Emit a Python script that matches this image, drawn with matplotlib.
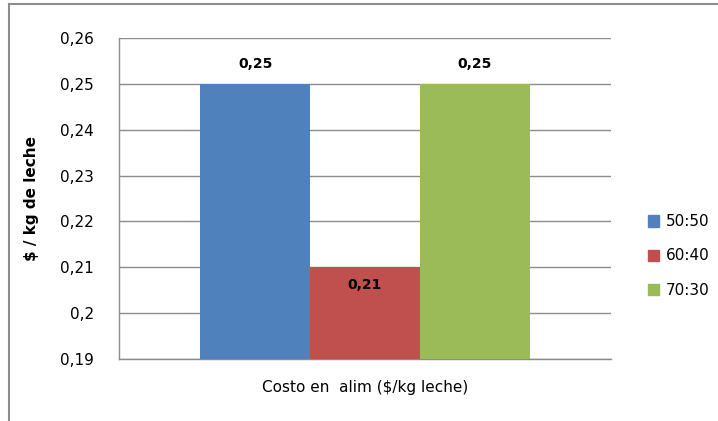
import matplotlib
matplotlib.use("Agg")
import matplotlib.pyplot as plt
from matplotlib.lines import Line2D
from matplotlib.ticker import FixedLocator

# Data
category = "Costo en  alim ($/kg leche)"
series = ["50:50", "60:40", "70:30"]
values = [0.25, 0.21, 0.25]
colors = ["#4F81BD", "#C0504D", "#9BBB59"]
yticks = [0.19, 0.20, 0.21, 0.22, 0.23, 0.24, 0.25, 0.26]
ytick_labels = ["0,19", "0,2", "0,21", "0,22", "0,23", "0,24", "0,25", "0,26"]

plt.rcParams["font.family"] = ["DejaVu Sans"]

W, H = 718, 421
fig = plt.figure(figsize=(W / 100, H / 100), dpi=100)
ax = fig.add_axes([119 / W, 1 - 359 / H, (611 - 119) / W, (359 - 38) / H])

bar_w = 0.223
offsets = [-bar_w, 0, bar_w]
for name, v, c, off in zip(series, values, colors, offsets):
    ax.bar(off, v - 0.19, bottom=0.19, width=bar_w, color=c, label=name, zorder=3)

ax.set_xlim(-0.5, 0.5)
ax.set_ylim(0.19, 0.26)

ax.yaxis.set_major_locator(FixedLocator(yticks))
ax.set_yticklabels(ytick_labels, fontsize=11, color="#000000")
ax.set_xticks([0])
ax.set_xticklabels([category], fontsize=11)
ax.tick_params(axis="both", length=0)
ax.tick_params(axis="y", pad=18)
ax.tick_params(axis="x", pad=15)

ax.grid(axis="y", color="#8c8c8c", linewidth=1.0, zorder=0)
for s in ["top", "right"]:
    ax.spines[s].set_visible(False)
for s in ["left", "bottom"]:
    ax.spines[s].set_color("#8c8c8c")
    ax.spines[s].set_linewidth(1.0)

ax.set_ylabel("$ / kg de leche", fontsize=11, fontweight="bold")
ax.yaxis.set_label_coords(-(119 - 39) / (611 - 119), 0.5)

# Value labels
for off, v in zip(offsets, values):
    lbl = f"{v:.2f}".replace(".", ",")
    dy = 20 if v >= 0.25 else -18
    ax.annotate(lbl, (off, v), xytext=(0, dy), textcoords="offset pixels",
                ha="center", va="center", fontsize=10, fontweight="bold")

# Legend
handles = [plt.Rectangle((0, 0), 1, 1, color=c) for c in colors]
fig.legend(handles, series, loc="center left",
           bbox_to_anchor=(634 / W, 1 - 256 / H), frameon=False,
           fontsize=11, handlelength=0.75, handleheight=0.75,
           handletextpad=0.45, labelspacing=1.25)

# Chart frame
fig.add_artist(Line2D([9 / W, 1], [1 - 4 / H, 1 - 4 / H], color="#8c8c8c", linewidth=1.5))
fig.add_artist(Line2D([9 / W, 9 / W], [0, 1 - 4 / H], color="#8c8c8c", linewidth=1.5))

fig.savefig("out.png", dpi=100)
